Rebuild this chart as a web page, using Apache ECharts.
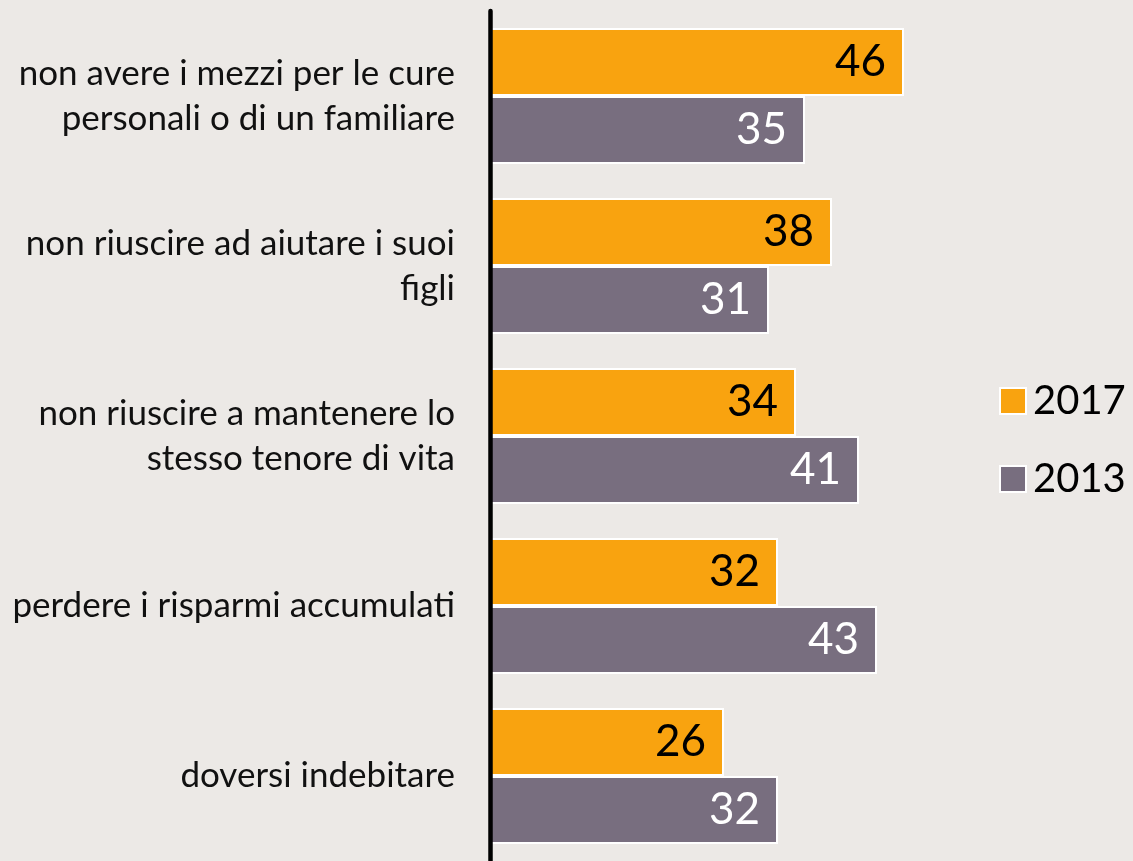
<!DOCTYPE html>
<html><head><meta charset="utf-8">
<script src="https://cdn.jsdelivr.net/npm/echarts@6/dist/echarts.min.js"></script>
<style>html,body{margin:0;padding:0;background:#ECE9E6;}#c{width:1133px;height:861px;}</style>
</head><body><div id="c"></div>
<script>
const categories = [
  "non avere i mezzi per le cure\npersonali o di un familiare",
  "non riuscire ad aiutare i suoi\nfigli",
  "non riuscire a mantenere lo\nstesso tenore di vita",
  "perdere i risparmi accumulati",
  "doversi indebitare"
];
const values2017 = [46, 38, 34, 32, 26];
const values2013 = [35, 31, 41, 43, 32];
const seriesNames = ["2017", "2013"];

const chart = echarts.init(document.getElementById('c'));
chart.setOption({
  backgroundColor: '#ECE9E6',
  animation: false,
  textStyle: {fontFamily: 'Lato'},
  legend: {
    orient: 'vertical', left: 994, top: 376, itemGap: 38, icon: 'rect',
    itemWidth: 26, itemHeight: 26,
    data: seriesNames,
    textStyle: {fontSize: 40, color: '#000', fontFamily: 'Lato', padding: [0,0,0,2]},
    itemStyle: {borderColor: '#fff', borderWidth: 2}
  },
  grid: {left: 490, top: 11, width: 450, height: 856},
  xAxis: {type: 'value', min: 0, max: 50, show: false},
  yAxis: {
    type: 'category', inverse: true, data: categories, z: 10,
    axisLine: {lineStyle: {color: '#000', width: 4.5}},
    axisTick: {show: false},
    axisLabel: {fontSize: 35, color: '#111', margin: 35, lineHeight: 45, fontFamily: 'Lato', align: 'right'}
  },
  series: [
    {name: seriesNames[0], type: 'bar', data: values2017, barGap: '0%', barCategoryGap: '20%',
     itemStyle: {color: '#F9A30F', borderColor: '#fff', borderWidth: 2},
     label: {show: true, position: 'insideRight', distance: 18, fontSize: 44, color: '#000', fontFamily: 'Lato'}},
    {name: seriesNames[1], type: 'bar', data: values2013,
     itemStyle: {color: '#786E7F', borderColor: '#fff', borderWidth: 2},
     label: {show: true, position: 'insideRight', distance: 18, fontSize: 44, color: '#fff', fontFamily: 'Lato'}}
  ]
});
</script></body></html>
